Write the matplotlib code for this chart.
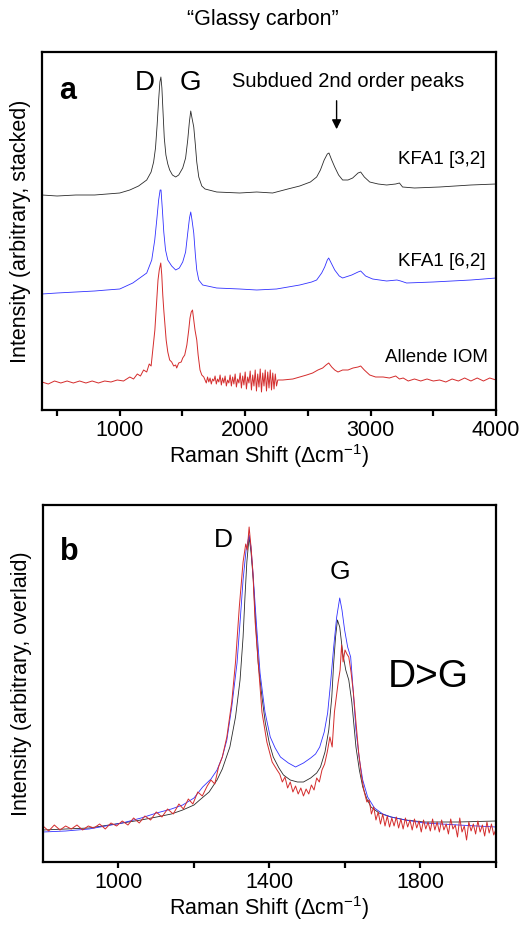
"""
Raman spectra of glassy carbon (KFA1) vs Allende IOM: stacked (a) and overlaid (b).
Values are read off the reference figure (arbitrary intensity units).
"""
import matplotlib
matplotlib.use("Agg")
import matplotlib.pyplot as plt

plt.rcParams.update({"font.family": ["Liberation Sans", "DejaVu Sans"],
                     "mathtext.fontset": "custom",
                     "mathtext.rm": "Liberation Sans",
                     "mathtext.it": "Liberation Sans:italic",
                     "axes.linewidth": 1.6})

COL = {"kfa32": "#2a2a2a", "kfa62": "#3030ff", "allende": "#d42c2c"}

# ---- panel a: stacked spectra (wavenumber, intensity) ----
a_k32_x = [380, 500, 650, 800, 900, 1000, 1080, 1150, 1215, 1250, 1270, 1285, 1298, 1310, 1320,
           1328, 1336, 1345, 1355, 1368, 1383, 1398, 1420, 1446, 1470, 1502, 1525, 1542, 1555,
           1566, 1576, 1590, 1603, 1614, 1630, 1654, 1680, 1773, 1956, 2092, 2219, 2340, 2435,
           2520, 2570, 2600, 2630, 2655, 2668, 2690, 2714, 2745, 2777, 2820, 2857, 2900, 2921,
           2950, 2993, 3060, 3128, 3200, 3230, 3255, 3350, 3550, 3800, 4000]
a_k32_y = [215, 214, 215, 215, 216, 217, 220, 224, 230, 238, 248, 262, 285, 310, 328,
           333, 322, 298, 272, 255, 246, 240, 235, 233, 235, 242, 252, 270, 288,
           299, 292, 283, 265, 248, 233, 224, 221, 218, 217, 218, 217, 221, 224,
           228, 233, 240, 250, 256, 257, 250, 243, 235, 230, 230, 232, 237, 238,
           233, 228, 226, 225, 226, 227, 223, 222, 223, 225, 226]

a_k62_x = [380, 500, 650, 800, 896, 1000, 1104, 1215, 1255, 1279, 1295, 1310, 1322, 1329, 1340,
           1351, 1365, 1383, 1414, 1446, 1475, 1502, 1525, 1542, 1556, 1566, 1576, 1590, 1603,
           1614, 1630, 1661, 1773, 1956, 2092, 2250, 2435, 2530, 2570, 2610, 2634, 2655, 2666,
           2690, 2714, 2750, 2777, 2850, 2900, 2921, 2960, 3016, 3128, 3210, 3240, 3287, 3500,
           3800, 4000]
a_k62_y = [116, 117, 118, 119, 120, 121, 127, 137, 150, 170, 190, 210, 220, 220, 200,
           178, 160, 150, 144, 140, 142, 148, 158, 177, 192, 198, 190, 177, 155,
           140, 130, 125, 122, 121, 120, 121, 125, 128, 130, 137, 143, 150, 152,
           146, 140, 134, 132, 135, 138, 139, 134, 131, 129, 130, 129, 127, 128,
           130, 132]

a_all_x = [380, 430, 480, 530, 580, 630, 680, 730, 780, 830, 880, 930, 980, 1030, 1080, 1110,
           1140, 1165, 1190, 1215, 1235, 1250, 1263, 1280, 1295, 1305, 1315, 1327, 1335, 1343,
           1351, 1359, 1370, 1383, 1398, 1414, 1430, 1446, 1454, 1470, 1490, 1502, 1518, 1535,
           1550, 1560, 1570, 1580, 1590, 1600, 1614, 1625, 1640, 1654, 1670,
           1680, 1690, 1700, 1710, 1720, 1730, 1740, 1750, 1760, 1770, 1780, 1790, 1800, 1810,
           1820, 1830, 1840, 1850, 1860, 1870, 1880, 1890, 1900, 1910, 1920, 1930, 1940, 1950,
           1960, 1970, 1980, 1990, 2000, 2010, 2020, 2030, 2040, 2050, 2060, 2070, 2080, 2090,
           2100, 2110, 2120, 2130, 2140, 2150, 2160, 2170, 2180, 2190, 2200, 2210, 2220, 2230,
           2240, 2250, 2260,
           2300, 2380, 2435, 2490, 2538, 2580, 2618, 2645, 2666, 2690, 2714, 2740, 2777, 2820,
           2860, 2900, 2921, 2950, 2993, 3040, 3100, 3150, 3200, 3230, 3260, 3300, 3350, 3400,
           3450, 3500, 3550, 3600, 3650, 3700, 3750, 3800, 3850, 3900, 3950, 4000]
a_all_y = [28, 26, 29, 27, 29, 27, 29, 27, 29, 27, 29, 28, 30, 29, 33, 31,
           36, 34, 40, 38, 46, 44, 60, 80, 110, 130, 140, 147, 135, 115,
           100, 87, 70, 58, 50, 48, 44, 45, 42, 47, 48, 52, 55, 65,
           80, 92, 98, 100, 90, 80, 70, 55, 40, 35, 33,
           30, 27, 33, 28, 32, 26, 31, 29, 34, 26, 31, 28, 35, 25,
           32, 27, 34, 24, 30, 27, 35, 24, 33, 26, 36, 23, 31, 27,
           37, 22, 34, 25, 38, 21, 33, 27, 39, 20, 35, 24, 40, 19,
           36, 23, 41, 18, 37, 24, 40, 19, 38, 22, 40, 20, 37, 21,
           36, 24, 30,
           30, 31, 33, 35, 37, 40, 42, 45, 47, 43, 40, 38, 40, 40,
           42, 43, 44, 40, 35, 33, 33, 32, 34, 31, 32, 29, 31, 29,
           31, 29, 30, 28, 31, 29, 32, 29, 32, 29, 32, 30]

# ---- panel b: overlaid spectra, first-order region ----
b_k32_x = [800, 860, 922, 1010, 1060, 1101, 1140, 1170, 1200, 1215, 1240, 1261, 1275, 1295, 1310,
           1322, 1330, 1335, 1340, 1346, 1351, 1357, 1363, 1370, 1380, 1389, 1400, 1410, 1425,
           1437, 1455, 1474, 1490, 1509, 1525, 1535, 1547, 1557, 1565, 1570, 1575, 1580, 1586,
           1594, 1602, 1610, 1618, 1629, 1638, 1647, 1658, 1669, 1690, 1722, 1760, 1810, 1900,
           2000]
b_k32_y = [32, 33, 34, 39, 42, 45, 48, 52, 57, 62, 70, 82, 93, 115, 145,
           182, 225, 265, 300, 325, 310, 282, 240, 199, 165, 139, 118, 105, 94,
           87, 82, 80, 80, 84, 89, 95, 110, 132, 165, 199, 225, 242, 235,
           209, 192, 182, 160, 115, 92, 75, 63, 55, 49, 45, 42, 40, 40,
           41]

b_k62_x = [800, 860, 922, 1010, 1060, 1101, 1140, 1170, 1200, 1223, 1245, 1261, 1275, 1287, 1300,
           1314, 1323, 1330, 1338, 1346, 1351, 1357, 1366, 1375, 1388, 1402, 1415, 1429, 1450,
           1469, 1490, 1509, 1522, 1533, 1545, 1554, 1562, 1570, 1578, 1586, 1592, 1599, 1607,
           1615, 1622, 1629, 1638, 1647, 1660, 1678, 1700, 1722, 1760, 1810, 1900, 2000]
b_k62_y = [30, 31, 33, 39, 44, 49, 53, 57, 64, 75, 83, 92, 105, 122, 155,
           199, 245, 282, 312, 327, 315, 285, 235, 189, 150, 125, 114, 105, 99,
           95, 99, 104, 108, 115, 130, 149, 180, 215, 245, 264, 252, 232, 215,
           205, 170, 132, 103, 82, 65, 54, 48, 45, 42, 39, 37, 35]

b_all_x = [800, 815, 830, 845, 860, 875, 890, 905, 920, 935, 950, 965, 980, 995, 1010, 1025,
           1040, 1055, 1070, 1085, 1100, 1115, 1130, 1145, 1160, 1172, 1185, 1197, 1210, 1222,
           1235, 1245, 1255, 1265, 1275, 1287, 1300, 1310, 1320, 1330, 1337, 1341, 1346, 1351,
           1356, 1362, 1371, 1380, 1393, 1407, 1420, 1427, 1434, 1441, 1448, 1455, 1462, 1469,
           1476, 1483, 1490, 1497, 1504, 1511, 1518, 1525, 1532, 1539, 1546, 1553, 1560, 1566,
           1572, 1577, 1582, 1587, 1591, 1595, 1600, 1605, 1610, 1616, 1622, 1629, 1636, 1644,
           1651, 1658, 1664, 1670, 1676, 1682, 1688, 1694, 1700, 1706, 1712, 1718, 1724, 1730,
           1736, 1742, 1748, 1754, 1760, 1766, 1772, 1778, 1784, 1790, 1796, 1802, 1808, 1814,
           1820, 1826, 1832, 1838, 1844, 1850, 1856, 1862, 1868, 1874, 1880, 1886, 1892, 1898,
           1904, 1910, 1916, 1922, 1928, 1934, 1940, 1946, 1952, 1958, 1964, 1970, 1976, 1982,
           1988, 1994, 2000]
b_all_y = [36, 31, 37, 32, 36, 33, 37, 32, 36, 34, 38, 33, 39, 36, 41, 37,
           44, 39, 46, 42, 50, 45, 53, 48, 58, 53, 63, 58, 70, 66,
           76, 82, 78, 95, 105, 125, 160, 200, 255, 300, 318, 312, 335, 315,
           290, 240, 195, 150, 120, 100, 92, 88, 80, 85, 74, 80, 70, 76,
           68, 74, 66, 73, 68, 77, 72, 84, 80, 92, 98, 110, 125, 115,
           150, 165, 180, 192, 217, 200, 212, 208, 205, 190, 170, 140, 110, 85,
           70, 60, 62, 48, 55, 42, 50, 38, 48, 36, 46, 35, 44, 36,
           45, 34, 43, 33, 44, 35, 42, 32, 43, 34, 41, 30, 42, 33,
           40, 31, 43, 32, 40, 30, 42, 32, 38, 28, 43, 33, 37, 25,
           44, 30, 36, 22, 40, 31, 38, 28, 41, 30, 37, 26, 40, 29,
           38, 27, 33]

fig = plt.figure(figsize=(5.23, 9.26), dpi=100)
ax1 = fig.add_axes([42 / 523, 1 - 410 / 926, 454 / 523, 358 / 926])
ax2 = fig.add_axes([43 / 523, 1 - 862 / 926, 453 / 523, 357 / 926])

fig.text(0.502, 1 - 20 / 926, "\u201cGlassy carbon\u201d", ha="center", va="center", fontsize=15.5)

# panel a
ax1.plot(a_k32_x, a_k32_y, color=COL["kfa32"], lw=0.6)
ax1.plot(a_k62_x, a_k62_y, color=COL["kfa62"], lw=0.6)
ax1.plot(a_all_x, a_all_y, color=COL["allende"], lw=0.7)
ax1.set_xlim(380, 4000)
ax1.set_ylim(0, 358)
ax1.set_xticks([1000, 2000, 3000, 4000])
ax1.set_xticks([500, 1500, 2500, 3500], minor=True)
ax1.set_yticks([])
ax1.tick_params(axis="x", which="both", direction="out", length=4, width=1.6, labelsize=15.5, pad=3)
ax1.set_xlabel("Raman Shift (\u0394cm$^{-1}$)", fontsize=15.5, labelpad=1)
ax1.set_ylabel("Intensity (arbitrary, stacked)", fontsize=15.5, labelpad=8)
ax1.text(0.037, 0.869, "a", transform=ax1.transAxes, fontsize=22, fontweight="bold")
ax1.text(1199, 320, "D", ha="center", fontsize=20)
ax1.text(1566, 320, "G", ha="center", fontsize=20)
ax1.text(1893, 323, "Subdued 2nd order peaks", fontsize=14.5)
ax1.annotate("", xy=(2729, 278), xytext=(2729, 312),
             arrowprops=dict(arrowstyle="-|>", color="k", lw=1, mutation_scale=14))
ax1.text(3917, 246, "KFA1 [3,2]", ha="right", fontsize=13.5)
ax1.text(3917, 144, "KFA1 [6,2]", ha="right", fontsize=13.5)
ax1.text(3933, 48, "Allende IOM", ha="right", fontsize=13.5)

# panel b
ax2.plot(b_k32_x, b_k32_y, color=COL["kfa32"], lw=0.6)
ax2.plot(b_k62_x, b_k62_y, color=COL["kfa62"], lw=0.6)
ax2.plot(b_all_x, b_all_y, color=COL["allende"], lw=0.7)
ax2.set_xlim(800, 2000)
ax2.set_ylim(0, 357)
ax2.set_xticks([1000, 1400, 1800])
ax2.set_xticks([1200, 1600, 2000], minor=True)
ax2.set_yticks([])
ax2.tick_params(axis="x", which="both", direction="out", length=4, width=1.6, labelsize=15.5, pad=3)
ax2.set_xlabel("Raman Shift (\u0394cm$^{-1}$)", fontsize=15.5, labelpad=1)
ax2.set_ylabel("Intensity (arbitrary, overlaid)", fontsize=15.5, labelpad=8)
ax2.text(0.0375, 0.846, "b", transform=ax2.transAxes, fontsize=22, fontweight="bold")
ax2.text(1277, 315, "D", ha="center", fontsize=19)
ax2.text(1587, 283, "G", ha="center", fontsize=19)
ax2.text(1714, 175, "D>G", fontsize=28)

fig.savefig("out.png", dpi=100)
